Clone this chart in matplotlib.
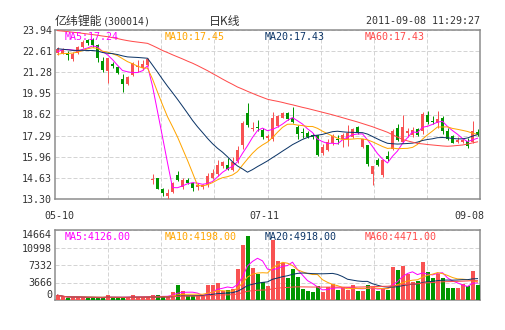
import numpy as np
import pandas as pd
import matplotlib
matplotlib.use("Agg")
import matplotlib.pyplot as plt

W, H, DPI = 505, 330, 100

# ---- daily data (unadjusted prices) ----
opens = [22.50, 22.45, 22.50, 22.10, 22.50, 22.85, 23.30, 23.30, 23.00, 21.98,
         21.38, 21.80, 21.62, 20.88, 20.55, 21.11, 21.58, 21.57, 21.75, 14.52,
         14.60, 13.92, 13.52, 13.72, 14.82, 14.05, 14.50, 14.30, 14.05, 14.08,
         14.15, 14.65, 14.85, 15.35, 15.45, 15.15, 15.70, 16.70, 18.70, 17.72,
         17.85, 17.64, 17.12, 17.05, 17.92, 18.42, 18.72, 18.40, 17.84, 17.52,
         17.46, 17.35, 17.30, 16.20, 16.40, 16.80, 17.10, 17.05, 17.10, 17.22,
         17.82, 16.60, 16.68, 14.85, 15.78, 14.80, 16.02, 16.45, 17.78, 16.88,
         17.45, 17.30, 17.70, 17.55, 18.58, 18.22, 18.10, 18.40, 17.58, 17.25,
         16.90, 16.90, 16.95, 16.90, 17.52]
highs = [22.85, 22.80, 22.60, 22.55, 22.95, 23.30, 23.40, 23.45, 23.05, 22.25,
         22.20, 21.95, 21.70, 21.20, 21.05, 21.95, 22.08, 22.08, 22.15, 14.86,
         14.62, 14.00, 13.91, 14.35, 15.05, 14.65, 14.62, 14.40, 14.30, 14.25,
         14.95, 15.20, 15.75, 15.72, 15.85, 15.95, 16.62, 18.20, 19.33, 18.15,
         18.30, 17.75, 17.40, 18.80, 18.60, 18.78, 18.80, 19.10, 17.99, 17.78,
         17.55, 17.45, 17.35, 16.75, 17.05, 17.40, 17.35, 17.45, 17.95, 17.80,
         17.88, 17.10, 16.72, 15.40, 15.90, 15.80, 16.32, 17.70, 18.00, 18.60,
         17.80, 17.85, 17.80, 18.80, 18.85, 18.55, 18.82, 18.55, 17.75, 17.35,
         17.20, 17.10, 17.15, 18.18, 17.70]
lows = [22.35, 22.40, 22.05, 22.00, 22.45, 22.80, 23.02, 22.90, 21.95, 21.30,
        20.62, 21.55, 21.15, 20.06, 20.45, 21.05, 21.32, 21.42, 21.70, 14.24,
        13.90, 13.50, 13.30, 13.68, 14.45, 13.95, 14.25, 13.80, 13.85, 13.95,
        14.05, 14.55, 14.75, 15.25, 15.10, 15.05, 15.55, 16.45, 17.85, 17.55,
        17.60, 17.05, 16.95, 16.95, 17.85, 18.38, 18.25, 18.10, 17.05, 17.15,
        17.15, 17.10, 15.98, 16.05, 16.30, 16.70, 16.75, 16.60, 16.65, 17.15,
        17.40, 16.50, 15.40, 14.20, 15.35, 14.70, 15.70, 16.40, 16.95, 16.80,
        17.20, 17.20, 17.25, 17.40, 18.00, 18.05, 17.80, 17.40, 17.00, 16.80,
        16.80, 16.85, 16.50, 16.85, 17.25]
closes = [22.72, 22.70, 22.35, 22.45, 22.88, 23.20, 23.15, 23.00, 22.18, 21.40,
          22.15, 21.65, 21.22, 20.53, 21.00, 21.88, 21.68, 21.80, 22.10, 14.56,
          13.92, 13.66, 13.66, 14.29, 14.52, 14.50, 14.33, 14.00, 14.15, 14.15,
          14.75, 14.95, 15.45, 15.60, 15.18, 15.60, 16.40, 18.10, 17.98, 17.80,
          17.75, 17.18, 17.28, 18.40, 18.52, 18.70, 18.35, 18.16, 17.40, 17.48,
          17.20, 17.18, 16.10, 16.60, 16.92, 17.25, 17.00, 17.35, 17.45, 17.70,
          17.45, 17.05, 15.48, 15.35, 15.45, 15.76, 15.80, 17.60, 17.00, 17.85,
          17.55, 17.65, 17.35, 18.68, 18.16, 18.15, 18.35, 17.60, 17.08, 16.85,
          17.00, 17.00, 16.65, 17.60, 17.38]
volumes = [1000, 600, 350, 600, 600, 600, 450, 450, 450, 450,
           1000, 450, 450, 450, 600, 1000, 600, 600, 600, 1000,
           1000, 600, 700, 1700, 3100, 1900, 750, 750, 750, 750,
           3100, 3100, 3500, 1850, 2100, 2200, 6500, 11550, 13400, 6750,
           5500, 3800, 2900, 12600, 8200, 7700, 4650, 6500, 4850, 2400,
           1900, 1680, 2900, 1750, 2700, 3250, 2130, 2720, 2130, 3100,
           1900, 1900, 3100, 2700, 1900, 2200, 2100, 6900, 6200, 7100,
           5500, 3800, 4000, 8000, 5800, 4700, 5400, 4700, 2600, 2600,
           2600, 3300, 3000, 6000, 3100]
# closes of the sessions just before the first candle (feed the moving averages)
prior_closes = [23.30, 23.00, 23.20, 22.90, 23.10, 23.40, 23.00, 22.90, 23.20, 23.10,
                22.10, 22.40, 22.20, 22.30, 22.25, 22.00, 22.30, 22.60, 23.20]
# 60-day average of the close
ma60_price = [23.90, 23.87, 23.84, 23.80, 23.77, 23.73, 23.69, 23.65, 23.61, 23.56,
              23.52, 23.46, 23.40, 23.33, 23.27, 23.22, 23.18, 23.14, 23.10, 22.96,
              22.81, 22.65, 22.52, 22.38, 22.25, 22.12, 21.98, 21.85, 21.70, 21.54,
              21.38, 21.20, 21.03, 20.85, 20.68, 20.52, 20.35, 20.22, 20.08, 19.95,
              19.82, 19.70, 19.58, 19.51, 19.45, 19.38, 19.30, 19.23, 19.15, 19.07,
              19.00, 18.92, 18.84, 18.76, 18.68, 18.60, 18.51, 18.42, 18.33, 18.24,
              18.15, 18.05, 17.95, 17.85, 17.73, 17.62, 17.50, 17.35, 17.20, 17.05,
              16.96, 16.88, 16.80, 16.77, 16.73, 16.70, 16.67, 16.64, 16.62, 16.64,
              16.67, 16.70, 16.76, 16.83, 16.90]

price_ticks = [13.30, 14.63, 15.96, 17.29, 18.62, 19.95, 21.28, 22.61, 23.94]
volume_ticks = [0, 3666, 7332, 10998, 14664]
date_labels = ["05-10", "07-11", "09-08"]
date_positions = [0.4, 41.4, 82.4]

ma_windows = [5, 10, 20, 60]
price_ma_values = [17.24, 17.45, 17.43, 17.43]
volume_ma_values = [4126.00, 4198.00, 4918.00, 4471.00]

stock_name = "亿纬锂能"
stock_code = "(300014)"
chart_kind = "日K线"
timestamp = "2011-09-08 11:29:27"

# ---- styling ----
RED = "#f85252"
GREEN = "#009600"
MA_COLORS = ["#ff00ff", "#ffa500", "#0c3567", "#ff4a4a"]
SPINE = "#8a8a8a"
GRID = "#d4d4d4"
TXT = "#333333"
PX = 72.0 / DPI  # one pixel in points

plt.rcParams["font.family"] = ["DejaVu Sans Mono", "Noto Sans CJK SC"]
plt.rcParams["font.size"] = 7.2

opens = np.array(opens); highs = np.array(highs)
lows = np.array(lows); closes = np.array(closes)
volumes = np.array(volumes, dtype=float)
n = len(closes)
x = np.arange(n)


def sma(a, w):
    return pd.Series(a).rolling(w, min_periods=1).mean().to_numpy()


hist = np.concatenate([prior_closes, closes])
k = len(prior_closes)
price_mas = [sma(hist, w)[k:] for w in ma_windows[:3]] + [np.array(ma60_price)]
volume_mas = [sma(volumes, w) for w in ma_windows]

fig = plt.figure(figsize=(W / DPI, H / DPI), dpi=DPI)
fig.patch.set_facecolor("white")


def rect(l, t, r, b):
    return [l / W, 1 - b / H, (r - l) / W, (b - t) / H]


def fpos(px, py):
    return px / W, 1 - py / H


ax = fig.add_axes(rect(55, 30, 480, 199))
axv = fig.add_axes(rect(55, 230, 480, 300))

grid_x = [-0.5 + n / 8 * j for j in range(1, 8)]
for a in (ax, axv):
    a.set_xlim(-0.5, n - 0.5)
    a.set_xticks(grid_x, minor=True)
    a.grid(which="minor", axis="x", color=GRID, linewidth=PX, linestyle=(0, (4, 2)))
    a.grid(which="major", axis="y", color=GRID, linewidth=PX, linestyle=(0, (4, 2)))
    a.set_axisbelow(True)
    for s in a.spines.values():
        s.set_color(SPINE)
        s.set_linewidth(1.5 * PX)
    a.tick_params(which="both", length=0, colors=TXT, labelsize=7.2, pad=3 * PX)

# ---- price panel ----
ax.set_ylim(price_ticks[0], price_ticks[-1])
ax.set_yticks(price_ticks)
ax.set_yticklabels([f"{v:.2f}" for v in price_ticks])
ax.set_xticks(date_positions)
ax.set_xticklabels(date_labels)
ax.tick_params(axis="x", pad=12 * PX)

up = closes >= opens
colors = np.where(up, RED, GREEN)
ax.vlines(x, lows, highs, colors=colors, linewidth=PX, zorder=3)
body_lo = np.minimum(opens, closes)
body_h = np.maximum(np.abs(closes - opens), 0.065)
ax.bar(x, body_h, bottom=body_lo, width=0.6, color=colors, linewidth=0, zorder=3)

for ma, c in zip(price_mas, MA_COLORS):
    ax.plot(x, ma, color=c, linewidth=PX, zorder=4)

# ---- volume panel ----
axv.set_ylim(volume_ticks[0], volume_ticks[-1])
axv.set_yticks(volume_ticks)
axv.set_yticklabels([str(v) for v in volume_ticks])
axv.set_xticks([])
labels = axv.get_yticklabels()
labels[0].set_va("bottom")
labels[-1].set_va("top")

axv.bar(x, volumes, width=0.8, color=colors, linewidth=0, zorder=3)
for ma, c in zip(volume_mas, MA_COLORS):
    axv.plot(x, ma, color=c, linewidth=PX, zorder=4)

# ---- header and MA captions ----
fig.text(*fpos(55, 21), stock_name, family=["Noto Sans CJK SC"], fontsize=8.6,
         color=TXT, va="center", ha="left")
fig.text(*fpos(103, 21), stock_code, fontsize=7.2, color=TXT, va="center", ha="left")
fig.text(*fpos(225, 21), chart_kind, family=["Noto Sans CJK SC"], fontsize=8.6,
         color=TXT, va="center", ha="center")
fig.text(*fpos(480, 21), timestamp, fontsize=7.2, color=TXT, va="center", ha="right")

for j, (w, c) in enumerate(zip(ma_windows, MA_COLORS)):
    fig.text(*fpos(65 + 100 * j, 37), f"MA{w}:{price_ma_values[j]:.2f}",
             fontsize=7.2, color=c, va="center", ha="left")
    fig.text(*fpos(65 + 100 * j, 237), f"MA{w}:{volume_ma_values[j]:.2f}",
             fontsize=7.2, color=c, va="center", ha="left")

fig.savefig("out.png", dpi=DPI)
